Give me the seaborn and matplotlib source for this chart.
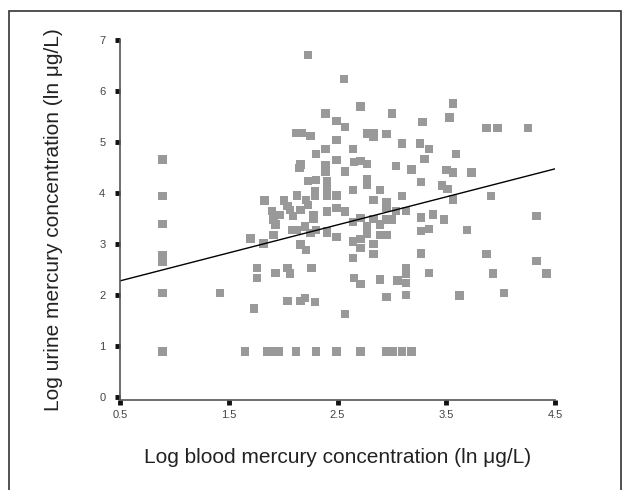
import pandas as pd
import matplotlib
import matplotlib.pyplot as plt
import matplotlib.patches as patches
import numpy as np
import seaborn as sns

sns.set_style("white")
plt.rcParams["font.family"] = ["Liberation Sans", "DejaVu Sans"]

# log blood mercury (x) / log urine mercury (y)
blood = [0.89, 0.89, 0.89, 0.89, 0.89, 0.89, 0.89, 0.89, 1.42,
         1.65, 1.85, 1.93, 1.96, 2.12, 2.30, 2.49, 2.71, 2.95, 3.01, 3.09, 3.18,
         2.23, 2.56, 3.56, 2.71, 2.39, 3.00, 3.28, 2.49, 3.53, 2.57, 3.87, 3.97, 4.25,
         2.12, 2.17, 2.25, 2.77, 2.83, 2.83, 2.95, 2.49, 3.09, 3.26, 2.39, 2.64, 3.34,
         2.30, 3.59, 2.49, 3.30, 2.65, 2.71, 2.77, 2.16, 2.15, 3.04, 2.39, 2.39, 2.39,
         3.18, 3.50, 3.56, 3.73, 2.57, 2.23, 2.30, 2.40, 2.40, 2.40, 2.77, 2.77, 2.77,
         3.27, 3.46, 3.51, 2.64, 2.89, 2.29, 2.29, 2.13, 2.40, 2.49, 3.09, 3.91,
         1.83, 2.01, 2.21, 2.23, 2.83, 2.95, 2.95, 2.95, 3.56, 2.04, 2.06, 2.09, 2.16,
         2.49, 2.57, 1.90, 1.97, 2.40, 2.28, 2.28, 3.04, 3.13, 3.38, 1.91, 1.93, 3.27,
         3.48, 2.71, 2.64, 2.83, 2.89, 2.95, 3.00, 2.08, 2.13, 2.20, 2.25, 2.30, 2.40,
         2.40, 2.77, 2.77, 2.77, 3.27, 3.34, 3.69, 1.70, 1.91, 2.49, 2.89, 2.95, 2.71,
         2.64, 1.82, 2.16, 2.83, 2.21, 2.71, 2.64, 2.83, 3.27, 3.87, 4.33, 4.33, 4.42,
         3.93, 4.03, 3.62, 1.76, 1.76, 1.93, 2.04, 2.06, 2.26, 3.13, 3.13, 3.13, 3.34,
         3.13, 2.65, 2.89, 3.05, 2.71, 3.13, 2.95, 2.04, 2.16, 2.20, 2.29, 1.73, 2.57]
urine = [4.66, 3.94, 3.39, 2.78, 2.72, 2.64, 2.04, 0.89, 2.04,
         0.89, 0.89, 0.89, 0.89, 0.89, 0.89, 0.89, 0.89, 0.89, 0.89, 0.89, 0.89,
         6.71, 6.24, 5.76, 5.70, 5.56, 5.56, 5.40, 5.42, 5.48, 5.29, 5.28, 5.28, 5.28,
         5.18, 5.18, 5.12, 5.17, 5.18, 5.10, 5.16, 5.04, 4.97, 4.97, 4.87, 4.87, 4.86,
         4.77, 4.77, 4.65, 4.67, 4.61, 4.63, 4.57, 4.56, 4.49, 4.53, 4.54, 4.47, 4.42,
         4.46, 4.45, 4.40, 4.40, 4.42, 4.23, 4.26, 4.23, 4.18, 4.12, 4.28, 4.21, 4.16,
         4.21, 4.15, 4.08, 4.06, 4.06, 4.03, 3.94, 3.95, 3.95, 3.95, 3.94, 3.94,
         3.85, 3.85, 3.86, 3.77, 3.86, 3.83, 3.77, 3.71, 3.87, 3.74, 3.67, 3.55, 3.66,
         3.71, 3.64, 3.65, 3.57, 3.64, 3.57, 3.50, 3.65, 3.65, 3.58, 3.48, 3.38, 3.52,
         3.48, 3.51, 3.43, 3.49, 3.38, 3.48, 3.48, 3.27, 3.28, 3.34, 3.21, 3.27, 3.26,
         3.21, 3.34, 3.26, 3.20, 3.26, 3.30, 3.28, 3.11, 3.17, 3.13, 3.17, 3.17, 3.10,
         3.05, 3.01, 2.99, 3.00, 2.88, 2.92, 2.73, 2.80, 2.81, 2.80, 3.55, 2.66, 2.42,
         2.42, 2.04, 1.99, 2.53, 2.33, 2.43, 2.53, 2.42, 2.53, 2.53, 2.47, 2.42, 2.43,
         2.24, 2.33, 2.30, 2.28, 2.21, 2.00, 1.96, 1.88, 1.88, 1.94, 1.86, 1.73, 1.62]

# fitted line: urine = intercept + slope * blood
intercept = 2.0
slope = 0.55

df = pd.DataFrame({"blood": blood, "urine": urine})

fig = plt.figure(figsize=(6.28, 4.9), dpi=100)
ax = fig.add_axes([0.191, 0.184, 0.693, 0.734])

sns.scatterplot(x="blood", y="urine", data=df, ax=ax, marker="s", s=36,
                color="#999999", edgecolor="none", linewidth=0)

xs = np.array([0.5, 4.5])
ax.plot(xs, intercept + slope * xs, color="black", lw=1.0)

ax.set_xlim(0.5, 4.5)
ax.set_ylim(-0.06, 7)
ax.set_xticks([0.5, 1.5, 2.5, 3.5, 4.5])
ax.set_xticklabels(["0.5", "1.5", "2.5", "3.5", "4.5"])
ax.set_yticks(range(0, 8))

sns.despine(ax=ax)
for s in ["left", "bottom"]:
    ax.spines[s].set_color("#555555")
    ax.spines[s].set_linewidth(1.2)

ax.tick_params(axis="both", bottom=True, left=True, direction="out", length=3.5,
               width=3.5, color="#111111", labelsize=8, labelcolor="#444444")
ax.tick_params(axis="y", pad=7)
ax.tick_params(axis="x", pad=4)

ax.set_xlabel("Log blood mercury concentration (ln \u03bcg/L)", fontsize=15,
              color="#222222")
ax.set_ylabel("Log urine mercury concentration (ln \u03bcg/L)", fontsize=15,
              color="#222222")
ax.xaxis.set_label_coords(0.5, -0.135)
ax.yaxis.set_label_coords(-0.13, 0.5)

# frame round the whole figure
fig.patches.append(patches.Rectangle((9 / 628, -0.05), 612 / 628, 1 - 11 / 490 + 0.05,
                                     transform=fig.transFigure, fill=False,
                                     edgecolor="#333333", lw=1.2))

fig.savefig("out.png", dpi=100)
